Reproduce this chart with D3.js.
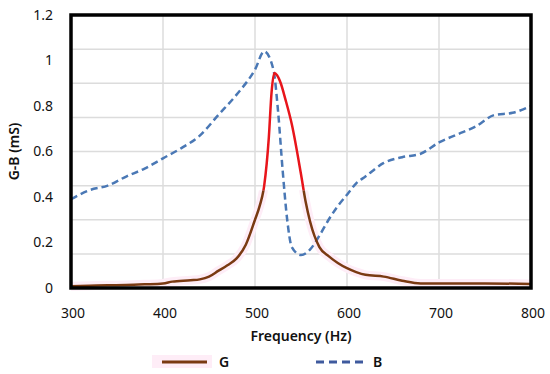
<!DOCTYPE html>
<html>
<head>
<meta charset="utf-8">
<script src="https://cdn.jsdelivr.net/npm/d3@7"></script>
<style>
	body { margin: 0; background: #fff; }
	text { font-family: "Noto Sans", sans-serif; fill: #111; }
</style>
</head>
<body>
<div id="chart"></div>
<script>
var freqG = [300, 320, 340, 360, 380, 400, 410, 430, 440, 450, 460, 470, 480, 490, 500, 505, 510, 515, 518, 521, 524, 528, 533, 540, 550, 555, 560, 570, 580, 590, 600, 610, 620, 640, 660, 680, 700, 750, 800];
var valG = [0.008, 0.01, 0.012, 0.013, 0.016, 0.02, 0.028, 0.034, 0.038, 0.05, 0.075, 0.1, 0.13, 0.19, 0.3, 0.36, 0.45, 0.66, 0.86, 0.945, 0.935, 0.9, 0.83, 0.72, 0.5, 0.38, 0.29, 0.18, 0.14, 0.11, 0.087, 0.07, 0.058, 0.05, 0.032, 0.02, 0.02, 0.02, 0.018];
var freqB = [300, 320, 340, 360, 380, 400, 420, 440, 460, 480, 500, 510, 520, 525, 530, 535, 540, 550, 560, 570, 580, 590, 600, 610, 620, 640, 660, 680, 700, 720, 740, 760, 780, 800];
var valB = [0.39, 0.43, 0.45, 0.49, 0.525, 0.57, 0.615, 0.67, 0.76, 0.85, 0.96, 1.04, 0.96, 0.78, 0.52, 0.30, 0.18, 0.145, 0.17, 0.23, 0.30, 0.36, 0.41, 0.46, 0.49, 0.55, 0.575, 0.59, 0.64, 0.675, 0.71, 0.76, 0.77, 0.80];
var xTicks = [300, 400, 500, 600, 700, 800];
var yTicks = [0, 0.2, 0.4, 0.6, 0.8, 1, 1.2];
var peakLevel = 0.43;

var margin = { top: 15, right: 19, bottom: 86, left: 71 },
	width = 550 - margin.left - margin.right,
	height = 374 - margin.top - margin.bottom;

var svg = d3.select("#chart").append("svg")
	.attr("width", 550)
	.attr("height", 374);

var g = svg.append("g")
	.attr("transform", "translate(" + margin.left + "," + margin.top + ")");

var x = d3.scaleLinear().domain([300, 800]).range([0, width]);
var y = d3.scaleLinear().domain([0, 1.2]).range([height, 0]);

// grid: vertical every 100 Hz, horizontal in 8 steps
g.selectAll("line.vgrid").data(xTicks).enter().append("line")
	.attr("x1", function(d) { return x(d); })
	.attr("x2", function(d) { return x(d); })
	.attr("y1", 0).attr("y2", height)
	.style("stroke", "#dcdcdc").style("stroke-width", 1.5);
g.selectAll("line.hgrid").data(d3.range(0, 1.2001, 0.15)).enter().append("line")
	.attr("x1", 0).attr("x2", width)
	.attr("y1", function(d) { return y(d); })
	.attr("y2", function(d) { return y(d); })
	.style("stroke", "#dcdcdc").style("stroke-width", 1.5);

var defs = svg.append("defs");
defs.append("clipPath").attr("id", "above")
	.append("rect").attr("x", -5).attr("y", -5).attr("width", width + 10).attr("height", y(peakLevel) + 5);
defs.append("clipPath").attr("id", "below")
	.append("rect").attr("x", -5).attr("y", y(peakLevel)).attr("width", width + 10).attr("height", height - y(peakLevel) + 5);

var dataG = freqG.map(function(f, i) { return [f, valG[i]]; });
var dataB = freqB.map(function(f, i) { return [f, valB[i]]; });

var line = d3.line()
	.x(function(d) { return x(d[0]); })
	.y(function(d) { return y(d[1]); })
	.curve(d3.curveMonotoneX);

// faint pink highlight behind the brown part
g.append("path").datum(dataG)
	.attr("clip-path", "url(#below)")
	.attr("d", line)
	.style("fill", "none").style("stroke", "#feedf7").style("stroke-width", 9);

g.append("path").datum(dataB)
	.attr("d", line)
	.style("fill", "none").style("stroke", "#4a78b5").style("stroke-width", 2.5)
	.style("stroke-dasharray", "7,4");

g.append("path").datum(dataG)
	.attr("clip-path", "url(#below)")
	.attr("d", line)
	.style("fill", "none").style("stroke", "#7a3a12").style("stroke-width", 2.5);
g.append("path").datum(dataG)
	.attr("clip-path", "url(#above)")
	.attr("d", line)
	.style("fill", "none").style("stroke", "#e8151b").style("stroke-width", 2.5);

// frame
g.append("rect")
	.attr("x", 0).attr("y", 0).attr("width", width).attr("height", height)
	.style("fill", "none").style("stroke", "#000").style("stroke-width", 3.5);

g.selectAll("text.ylab").data(yTicks).enter().append("text")
	.attr("x", -18)
	.attr("y", function(d) { return y(d); })
	.attr("dy", "0.35em")
	.style("text-anchor", "end")
	.style("font-size", "14px")
	.text(function(d) { return d; });

g.selectAll("text.xlab").data(xTicks).enter().append("text")
	.attr("x", function(d) { return x(d) + 2; })
	.attr("y", height + 30)
	.style("text-anchor", "middle")
	.style("font-size", "14px")
	.text(function(d) { return d; });

g.append("text")
	.attr("x", width / 2)
	.attr("y", height + 53)
	.style("text-anchor", "middle")
	.style("font-size", "14px")
	.style("font-weight", "600")
	.text("Frequency (Hz)");

svg.append("text")
	.attr("transform", "translate(19," + (margin.top + height / 2) + ") rotate(-90)")
	.style("text-anchor", "middle")
	.style("font-size", "14px")
	.style("font-weight", "600")
	.text("G-B (mS)");

// legend
var legend = svg.append("g").attr("transform", "translate(0,362)");
legend.append("rect").attr("x", 152).attr("y", -7).attr("width", 60).attr("height", 13).style("fill", "#feedf7");
legend.append("line").attr("x1", 162).attr("x2", 207).attr("y1", 0).attr("y2", 0)
	.style("stroke", "#7a3a12").style("stroke-width", 3);
legend.append("text").attr("x", 219).attr("y", 0).attr("dy", "0.35em")
	.style("font-size", "14px").style("font-weight", "600").text("G");
legend.append("line").attr("x1", 316).attr("x2", 363).attr("y1", 0).attr("y2", 0)
	.style("stroke", "#3f5a9e").style("stroke-width", 3).style("stroke-dasharray", "8,5");
legend.append("text").attr("x", 373).attr("y", 0).attr("dy", "0.35em")
	.style("font-size", "14px").style("font-weight", "600").text("B");
</script>
</body>
</html>
